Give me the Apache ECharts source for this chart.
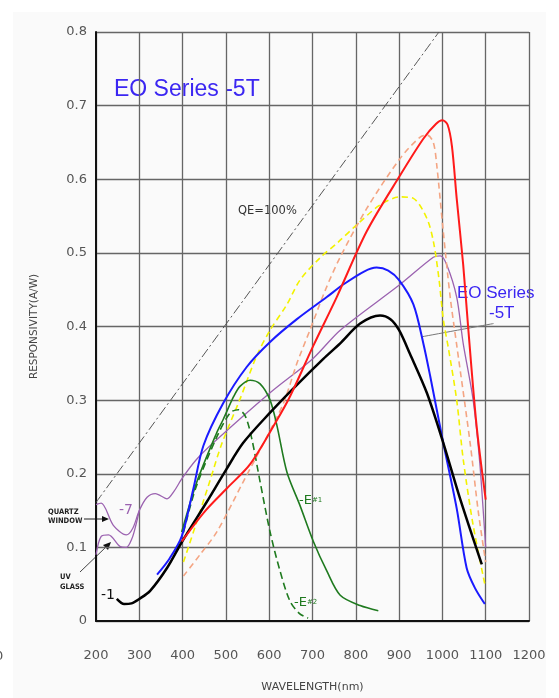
<!DOCTYPE html>
<html>
<head>
<meta charset="utf-8">
<script src="https://cdn.jsdelivr.net/npm/echarts@6/dist/echarts.min.js"></script>
<style>
  html, body { margin: 0; padding: 0; background: #fff; }
  #chart { width: 559px; height: 698px; }
</style>
</head>
<body>
<div id="chart"></div>
<script>
// wavelength (nm) vs responsivity (A/W)
const qeLine = [[200, 0.161], [992, 0.8]];
const redCurve = [[398, 0.108], [450, 0.148], [502, 0.18], [556, 0.213], [614, 0.269], [648, 0.305], [702, 0.374], [756, 0.44], [825, 0.529], [902, 0.605], [956, 0.655], [985, 0.675], [1000, 0.68], [1012, 0.674], [1022, 0.645], [1033, 0.574], [1048, 0.484], [1060, 0.395], [1079, 0.265], [1100, 0.165]];
const blueCurve = [[341, 0.063], [370, 0.085], [398, 0.115], [425, 0.18], [448, 0.238], [494, 0.296], [548, 0.345], [602, 0.379], [664, 0.41], [733, 0.44], [771, 0.457], [820, 0.475], [848, 0.48], [875, 0.476], [900, 0.463], [933, 0.43], [956, 0.377], [972, 0.332], [1002, 0.242], [1033, 0.153], [1056, 0.072], [1075, 0.045], [1098, 0.023]];
const blackCurve = [[248, 0.03], [265, 0.023], [282, 0.024], [300, 0.03], [325, 0.041], [364, 0.072], [399, 0.108], [456, 0.162], [500, 0.205], [540, 0.242], [602, 0.283], [656, 0.316], [725, 0.356], [764, 0.377], [810, 0.404], [856, 0.415], [880, 0.41], [900, 0.395], [925, 0.363], [964, 0.31], [1002, 0.242], [1041, 0.166], [1091, 0.077]];
const purpleQuartz = [[200, 0.158], [212, 0.16], [240, 0.13], [270, 0.117], [285, 0.126], [300, 0.15], [318, 0.168], [337, 0.173], [364, 0.166], [380, 0.176], [398, 0.193], [430, 0.218], [471, 0.242], [602, 0.31], [702, 0.357], [764, 0.395], [902, 0.457], [979, 0.494], [995, 0.496], [1010, 0.484], [1033, 0.44], [1048, 0.377], [1071, 0.3], [1087, 0.21], [1100, 0.1]];
const purpleUvGlass = [[200, 0.09], [212, 0.115], [229, 0.117], [256, 0.101], [270, 0.1], [283, 0.112], [292, 0.13], [300, 0.15]];
const yellowCurve = [[402, 0.08], [430, 0.13], [464, 0.192], [490, 0.24], [533, 0.302], [571, 0.36], [602, 0.395], [641, 0.43], [671, 0.463], [717, 0.493], [760, 0.515], [802, 0.538], [856, 0.565], [902, 0.576], [933, 0.574], [964, 0.547], [979, 0.516], [992, 0.465], [1002, 0.41], [1014, 0.37], [1033, 0.3], [1048, 0.22], [1071, 0.13], [1098, 0.05]];
const orangeCurve = [[402, 0.061], [440, 0.09], [479, 0.121], [540, 0.189], [590, 0.245], [633, 0.296], [664, 0.35], [694, 0.395], [730, 0.45], [763, 0.493], [825, 0.56], [902, 0.628], [948, 0.657], [965, 0.66], [979, 0.65], [987, 0.619], [1002, 0.529], [1018, 0.44], [1033, 0.375], [1064, 0.242], [1083, 0.148], [1100, 0.08]];
const greenE1 = [[398, 0.121], [433, 0.189], [479, 0.256], [494, 0.274], [518, 0.305], [533, 0.319], [556, 0.327], [579, 0.322], [602, 0.3], [618, 0.265], [641, 0.202], [671, 0.157], [702, 0.108], [733, 0.068], [764, 0.035], [810, 0.021], [852, 0.014]];
const greenE2 = [[402, 0.12], [430, 0.18], [479, 0.25], [510, 0.283], [529, 0.287], [545, 0.278], [560, 0.247], [579, 0.189], [602, 0.121], [625, 0.068], [648, 0.027], [670, 0.01], [690, 0.004]];
const eoPointer = [[952, 0.386], [1118, 0.404]];

const chart = echarts.init(document.getElementById('chart'));

const line = (name, data, color, width, type, z) => ({
  name: name,
  type: 'line',
  data: data,
  smooth: 0.3,
  showSymbol: false,
  symbol: 'none',
  z: z || 3,
  lineStyle: { color: color, width: width, type: type || 'solid' },
});

const small = { fontFamily: 'DejaVu Sans', fontSize: 13, fill: '#555' };

chart.setOption({
  animation: false,
  backgroundColor: '#fff',
  grid: { left: 96, right: 30, top: 32, bottom: 71 },
  xAxis: {
    type: 'value',
    min: 200,
    max: 1200,
    interval: 100,
    name: 'WAVELENGTH(nm)',
    nameLocation: 'middle',
    nameGap: 61,
    nameTextStyle: { fontFamily: 'DejaVu Sans', fontSize: 11, color: '#444' },
    axisLine: { lineStyle: { color: '#111', width: 2 } },
    axisTick: { show: false },
    axisLabel: { margin: 28, fontFamily: 'DejaVu Sans', fontSize: 13, color: '#555', formatter: v => String(v) },
    splitLine: { lineStyle: { color: '#666', width: 1.3 } },
  },
  yAxis: {
    type: 'value',
    min: 0,
    max: 0.8,
    interval: 0.1,
    name: 'RESPONSIVITY(A/W)',
    nameLocation: 'middle',
    nameGap: 56,
    nameTextStyle: { fontFamily: 'DejaVu Sans', fontSize: 10.5, color: '#444' },
    axisLine: { show: true, lineStyle: { color: '#111', width: 2 } },
    axisTick: { show: false },
    axisLabel: {
      margin: 9,
      fontFamily: 'DejaVu Sans',
      fontSize: 13,
      color: '#555',
      formatter: v => (v === 0 ? '0' : v.toFixed(1)),
    },
    splitLine: { lineStyle: { color: '#666', width: 1.3 } },
  },
  series: [
    line('QE=100%', qeLine, '#555', 1, [10, 3, 2, 3], 2),
    line('EO pointer', eoPointer, '#777', 1, 'solid', 2),
    line('-7 quartz', purpleQuartz, '#9b62b0', 1.3),
    line('-7 UV glass', purpleUvGlass, '#9b62b0', 1.3),
    line('yellow', yellowCurve, '#f2f200', 1.6, [6, 4]),
    line('orange', orangeCurve, '#f4a583', 1.6, [6, 4]),
    line('E#1', greenE1, '#1f7a1f', 1.6),
    line('E#2', greenE2, '#1f7a1f', 1.6, [7, 4]),
    line('blue', blueCurve, '#1a1aff', 2),
    line('-1', blackCurve, '#000', 2.5, 'solid', 4),
    line('red', redCurve, '#ff1a1a', 2, 'solid', 4),
  ],
  graphic: [
    { type: 'rect', z: -10, silent: true, shape: { x: 13, y: 12, width: 533, height: 686 }, style: { fill: '#fafafa' } },
    { type: 'text', left: -5, top: 650, style: Object.assign({}, small, { text: '0' }) },
    { type: 'text', left: 114, top: 78, style: { text: 'EO Series -5T', fontFamily: 'Liberation Sans', fontSize: 23, fill: '#3b26f2' } },
    { type: 'text', left: 457, top: 285, style: { text: 'EO Series', fontFamily: 'Liberation Sans', fontSize: 17, fill: '#3b26f2' } },
    { type: 'text', left: 489, top: 305, style: { text: '-5T', fontFamily: 'Liberation Sans', fontSize: 17, fill: '#3b26f2' } },
    { type: 'text', left: 238, top: 205, style: { text: 'QE=100%', fontFamily: 'DejaVu Sans', fontSize: 11.5, fill: '#333' } },
    { type: 'text', left: 119, top: 503, style: { text: '-7', fontFamily: 'DejaVu Sans', fontSize: 14, fill: '#9b62b0' } },
    { type: 'text', left: 101, top: 588, style: { text: '-1', fontFamily: 'DejaVu Sans', fontSize: 14, fill: '#111' } },
    {
      type: 'text', left: 299, top: 494,
      style: { text: '{a|-E}{b|#1}', rich: { a: { fontFamily: 'DejaVu Sans', fontSize: 13, fill: '#1f7a1f' }, b: { fontFamily: 'DejaVu Sans', fontSize: 7, fill: '#1f7a1f' } } },
    },
    {
      type: 'text', left: 294, top: 596,
      style: { text: '{a|-E}{b|#2}', rich: { a: { fontFamily: 'DejaVu Sans', fontSize: 13, fill: '#1f7a1f' }, b: { fontFamily: 'DejaVu Sans', fontSize: 7, fill: '#1f7a1f' } } },
    },
    { type: 'text', left: 48, top: 508, style: { text: 'QUARTZ\nWINDOW', fontFamily: 'DejaVu Sans Condensed', fontWeight: 'bold', fontSize: 7.5, lineHeight: 9, align: 'center', fill: '#222' } },
    { type: 'text', left: 60, top: 572, style: { text: 'UV\nGLASS', fontFamily: 'DejaVu Sans Condensed', fontWeight: 'bold', fontSize: 7.5, lineHeight: 10, align: 'center', fill: '#222' } },
    { type: 'line', shape: { x1: 84, y1: 519, x2: 104, y2: 519 }, style: { stroke: '#222', lineWidth: 1 } },
    { type: 'polygon', shape: { points: [[109, 519], [102, 516], [102, 522]] }, style: { fill: '#111' } },
    { type: 'line', shape: { x1: 80, y1: 572, x2: 106, y2: 547 }, style: { stroke: '#444', lineWidth: 1 } },
    { type: 'polygon', shape: { points: [[111, 542], [103, 545], [108, 550]] }, style: { fill: '#111' } },
  ],
});
</script>
</body>
</html>
